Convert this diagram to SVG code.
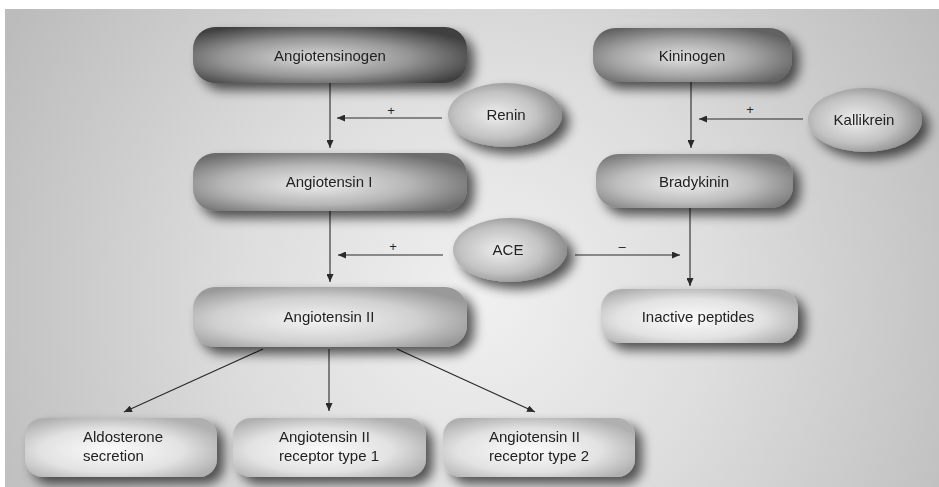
<svg xmlns="http://www.w3.org/2000/svg" width="939" height="487" viewBox="0 0 939 487">
<defs>
<radialGradient id="bg" gradientUnits="userSpaceOnUse" cx="480" cy="300" r="540">
<stop offset="0" stop-color="#f0f0f0"/><stop offset="0.45" stop-color="#dddddd"/><stop offset="1" stop-color="#bcbcbc"/>
</radialGradient>
<radialGradient id="g1" cx="0.45" cy="0.55" r="0.62"><stop offset="0" stop-color="#dcdcdc"/><stop offset="0.55" stop-color="#969696"/><stop offset="1" stop-color="#404040"/></radialGradient>
<radialGradient id="g2" cx="0.45" cy="0.55" r="0.62"><stop offset="0" stop-color="#ececec"/><stop offset="0.55" stop-color="#b6b6b6"/><stop offset="1" stop-color="#6c6c6c"/></radialGradient>
<radialGradient id="g3" cx="0.45" cy="0.55" r="0.62"><stop offset="0" stop-color="#f4f4f4"/><stop offset="0.6" stop-color="#d0d0d0"/><stop offset="1" stop-color="#999"/></radialGradient>
<radialGradient id="g4" cx="0.45" cy="0.55" r="0.62"><stop offset="0" stop-color="#fbfbfb"/><stop offset="0.6" stop-color="#e2e2e2"/><stop offset="1" stop-color="#b0b0b0"/></radialGradient>
<radialGradient id="gk" cx="0.45" cy="0.55" r="0.62"><stop offset="0" stop-color="#e2e2e2"/><stop offset="0.55" stop-color="#a6a6a6"/><stop offset="1" stop-color="#626262"/></radialGradient>
<radialGradient id="gb" cx="0.45" cy="0.55" r="0.62"><stop offset="0" stop-color="#ececec"/><stop offset="0.55" stop-color="#bebebe"/><stop offset="1" stop-color="#7c7c7c"/></radialGradient>
<radialGradient id="ge" cx="0.42" cy="0.5" r="0.6"><stop offset="0" stop-color="#eeeeee"/><stop offset="0.6" stop-color="#c2c2c2"/><stop offset="1" stop-color="#8a8a8a"/></radialGradient>
<filter id="sh" x="-20%" y="-30%" width="150%" height="190%">
<feGaussianBlur in="SourceAlpha" stdDeviation="6"/>
<feOffset dx="7" dy="7" result="b"/>
<feComponentTransfer><feFuncA type="linear" slope="0.65"/></feComponentTransfer>
<feMerge><feMergeNode/><feMergeNode in="SourceGraphic"/></feMerge>
</filter>
<marker id="ah" markerUnits="userSpaceOnUse" markerWidth="9" markerHeight="7" refX="8" refY="3.5" orient="auto">
<path d="M0,0 L8,3.5 L0,7 z" fill="#2a2a2a"/>
</marker>
</defs>
<style>
.t{font-family:"Liberation Sans",Arial,sans-serif;font-size:15px;fill:#222;text-anchor:middle}
.l{text-anchor:start}
.s{font-family:"Liberation Sans",Arial,sans-serif;font-size:13px;fill:#262626;text-anchor:middle}
.c{stroke:#2a2a2a;stroke-width:1.1;fill:none;marker-end:url(#ah)}
.n{filter:url(#sh)}
</style>
<rect x="0" y="0" width="939" height="487" fill="#ffffff"/>
<rect x="5" y="9" width="934" height="478" fill="url(#bg)"/>

<g id="connectors">
<line class="c" x1="330" y1="83" x2="330" y2="148"/>
<line class="c" x1="442" y1="118" x2="337" y2="118"/>
<line class="c" x1="330" y1="211" x2="330" y2="282"/>
<line class="c" x1="443" y1="255" x2="338" y2="255"/>
<line class="c" x1="575" y1="255" x2="680" y2="255"/>
<line class="c" x1="691" y1="82" x2="691" y2="148"/>
<line class="c" x1="803" y1="119" x2="699" y2="119"/>
<line class="c" x1="690" y1="208" x2="690" y2="286"/>
<line class="c" x1="263" y1="349" x2="124" y2="412"/>
<line class="c" x1="329" y1="349" x2="329" y2="411"/>
<line class="c" x1="397" y1="349" x2="535" y2="412"/>
<text class="s" x="391" y="115">+</text>
<text class="s" x="393" y="251">+</text>
<text class="s" x="622" y="251">–</text>
<text class="s" x="750" y="114">+</text>
</g>

<g id="angiotensinogen" class="n"><rect x="193" y="27" width="274" height="56" rx="22" fill="url(#g1)"/><text class="t" x="330" y="61">Angiotensinogen</text></g>
<g id="renin" class="n"><ellipse cx="505" cy="115" rx="57" ry="32" fill="url(#ge)"/><text class="t" x="506" y="120">Renin</text></g>
<g id="angiotensin1" class="n"><rect x="193" y="153" width="274" height="58" rx="22" fill="url(#g2)"/><text class="t" x="329" y="187">Angiotensin I</text></g>
<g id="ace" class="n"><ellipse cx="510" cy="250" rx="57" ry="32" fill="url(#ge)"/><text class="t" x="508" y="255">ACE</text></g>
<g id="angiotensin2" class="n"><rect x="193" y="287" width="274" height="60" rx="22" fill="url(#g3)"/><text class="t" x="329" y="322">Angiotensin II</text></g>
<g id="kininogen" class="n"><rect x="593" y="28" width="199" height="54" rx="22" fill="url(#gk)"/><text class="t" x="692" y="61">Kininogen</text></g>
<g id="kallikrein" class="n"><ellipse cx="865" cy="120" rx="57" ry="32" fill="url(#ge)"/><text class="t" x="864" y="125">Kallikrein</text></g>
<g id="bradykinin" class="n"><rect x="596" y="154" width="197" height="54" rx="22" fill="url(#gb)"/><text class="t" x="694" y="187">Bradykinin</text></g>
<g id="inactive" class="n"><rect x="601" y="289" width="197" height="54" rx="20" fill="url(#g4)"/><text class="t" x="698" y="322">Inactive peptides</text></g>
<g id="aldosterone" class="n"><rect x="25" y="418" width="192" height="59" rx="18" fill="url(#g4)"/><text class="t l" x="83" y="442">Aldosterone</text><text class="t l" x="83" y="461">secretion</text></g>
<g id="receptor1" class="n"><rect x="233" y="418" width="193" height="59" rx="18" fill="url(#g4)"/><text class="t l" x="279" y="442">Angiotensin II</text><text class="t l" x="279" y="461">receptor type 1</text></g>
<g id="receptor2" class="n"><rect x="443" y="418" width="192" height="59" rx="18" fill="url(#g4)"/><text class="t l" x="489" y="442">Angiotensin II</text><text class="t l" x="489" y="461">receptor type 2</text></g>
</svg>
